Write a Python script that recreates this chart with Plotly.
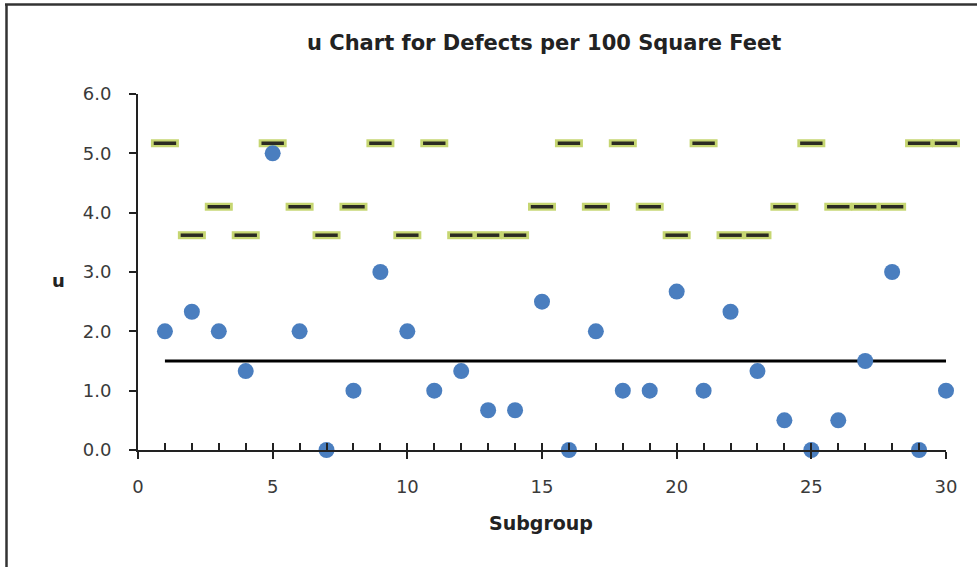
import plotly.graph_objects as go

subgroup = list(range(1, 31))
u_values = [2.0, 2.33, 2.0, 1.33, 5.0, 2.0, 0.0, 1.0, 3.0, 2.0,
            1.0, 1.33, 0.67, 0.67, 2.5, 0.0, 2.0, 1.0, 1.0, 2.67,
            1.0, 2.33, 1.33, 0.5, 0.0, 0.5, 1.5, 3.0, 0.0, 1.0]
ucl_values = [5.17, 3.62, 4.10, 3.62, 5.17, 4.10, 3.62, 4.10, 5.17, 3.62,
              5.17, 3.62, 3.62, 3.62, 4.10, 5.17, 4.10, 5.17, 4.10, 3.62,
              5.17, 3.62, 3.62, 4.10, 5.17, 4.10, 4.10, 4.10, 5.17, 5.17]
center_line = 1.5
x_ticks = [0, 5, 10, 15, 20, 25, 30]
y_ticks = [0.0, 1.0, 2.0, 3.0, 4.0, 5.0, 6.0]

FONT = "DejaVu Sans, Verdana, sans-serif"
W, H = 977, 567
ML, MR, MT, MB = 138, 31, 94, 117
pw, ph = W - ML - MR, H - MT - MB

fig = go.Figure()

# UCL markers (outer yellow-green bar + dark inner line)
fig.add_trace(go.Scatter(x=subgroup, y=ucl_values, mode="markers",
                         marker=dict(symbol="line-ew", size=20,
                                     line=dict(width=8, color="#c6d672")),
                         cliponaxis=False, hoverinfo="skip"))
fig.add_trace(go.Scatter(x=subgroup, y=ucl_values, mode="markers",
                         marker=dict(symbol="line-ew", size=16,
                                     line=dict(width=3.5, color="#2b2b22")),
                         cliponaxis=False))
# center line
fig.add_trace(go.Scatter(x=[subgroup[0], subgroup[-1]], y=[center_line, center_line],
                         mode="lines", line=dict(color="black", width=3),
                         cliponaxis=False))
# u points
fig.add_trace(go.Scatter(x=subgroup, y=u_values, mode="markers",
                         marker=dict(symbol="circle", size=16, color="#4a7ebf"),
                         cliponaxis=False))
# invisible trace for minor-tick axis
fig.add_trace(go.Scatter(x=[0], y=[0], xaxis="x2", mode="markers",
                         marker=dict(opacity=0), hoverinfo="skip"))

tickfont = dict(family=FONT, size=18, color="#3a3a3a")
fig.update_layout(
    width=W, height=H, showlegend=False,
    paper_bgcolor="white", plot_bgcolor="white",
    margin=dict(l=ML, r=MR, t=MT, b=MB),
    xaxis=dict(range=[0, 30], tickvals=x_ticks, ticks="outside", ticklen=7,
               tickwidth=2, tickcolor="#222", showline=True, linecolor="#222",
               linewidth=2, showgrid=False, zeroline=False, tickfont=tickfont,
               ticklabelstandoff=12),
    xaxis2=dict(range=[0, 30], overlaying="x", anchor="y", side="bottom",
                dtick=1, tick0=0, ticks="inside", ticklen=7, tickwidth=2,
                tickcolor="#222", showticklabels=False, showgrid=False,
                zeroline=False, showline=False),
    yaxis=dict(range=[0, 6], tickvals=y_ticks, ticktext=[f"{v:.1f}" for v in y_ticks],
               ticks="outside", ticklen=7, tickwidth=2, tickcolor="#222",
               showline=True, linecolor="#222", linewidth=2, showgrid=False,
               zeroline=False, tickfont=tickfont, ticklabelstandoff=14),
    annotations=[
        dict(text="<b>u Chart for Defects per 100 Square Feet</b>", xref="paper", yref="paper",
             x=(544 - ML) / pw, y=(H - MB - 43) / ph, showarrow=False,
             font=dict(family=FONT, size=21, color="#222"), xanchor="center", yanchor="middle"),
        dict(text="<b>u</b>", xref="paper", yref="paper",
             x=(58 - ML) / pw, y=(H - MB - 280) / ph, showarrow=False,
             font=dict(family=FONT, size=18, color="#222"), xanchor="center", yanchor="middle"),
        dict(text="<b>Subgroup</b>", xref="paper", yref="paper",
             x=(541 - ML) / pw, y=(H - MB - 523) / ph, showarrow=False,
             font=dict(family=FONT, size=19, color="#222"), xanchor="center", yanchor="middle"),
    ],
    shapes=[
        dict(type="line", xref="paper", yref="paper",
             x0=(5 - ML) / pw, x1=(977 - ML) / pw,
             y0=(H - MB - 4.5) / ph, y1=(H - MB - 4.5) / ph,
             line=dict(color="#333", width=2.5)),
        dict(type="line", xref="paper", yref="paper",
             x0=(6.5 - ML) / pw, x1=(6.5 - ML) / pw,
             y0=(H - MB - 4.5) / ph, y1=(H - MB - 567) / ph,
             line=dict(color="#333", width=2.5)),
    ],
)

fig.write_html("out.html", config={"displayModeBar": False},
               post_script="document.body.style.margin='0';document.body.style.overflow='hidden';")
